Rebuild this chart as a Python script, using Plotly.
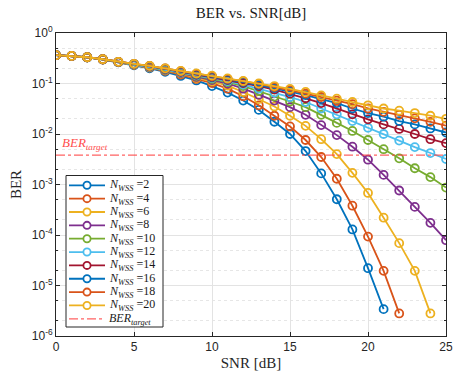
import math
import plotly.graph_objects as go

snr = list(range(0, 26))

ber_n2 = [0.363, 0.351, 0.328, 0.298, 0.263, 0.230, 0.200, 0.170, 0.141, 0.115, 0.089, 0.066, 0.046,
          0.030, 0.0175, 0.010, 0.0046, 0.00166, 0.00051, 0.000129, 0.000022, 0.0000034]
ber_n4 = [0.363, 0.351, 0.330, 0.299, 0.264, 0.235, 0.206, 0.178, 0.150, 0.123, 0.102, 0.079, 0.056,
          0.037, 0.023, 0.0141, 0.0076, 0.0035, 0.0013, 0.00038, 0.000093, 0.0000195, 0.0000028]
ber_n6 = [0.363, 0.351, 0.330, 0.300, 0.265, 0.237, 0.209, 0.182, 0.157, 0.129, 0.110, 0.091, 0.068,
          0.049, 0.035, 0.023, 0.0145, 0.0079, 0.0040, 0.0017, 0.00068, 0.00022, 0.000069, 0.0000195,
          0.0000028]
ber_n8 = [0.363, 0.351, 0.331, 0.300, 0.266, 0.239, 0.212, 0.186, 0.161, 0.135, 0.117, 0.100, 0.079,
          0.060, 0.046, 0.034, 0.024, 0.015, 0.0095, 0.0056, 0.0031, 0.00155, 0.00076, 0.00036,
          0.000174, 0.000079]
ber_n10 = [0.363, 0.351, 0.331, 0.301, 0.267, 0.240, 0.214, 0.189, 0.164, 0.141, 0.123, 0.107, 0.089,
           0.071, 0.055, 0.044, 0.034, 0.024, 0.0166, 0.0115, 0.0076, 0.0050, 0.0033, 0.0021, 0.0014,
           0.00087]
ber_n12 = [0.363, 0.351, 0.331, 0.301, 0.267, 0.241, 0.216, 0.191, 0.167, 0.145, 0.129, 0.112, 0.095,
           0.079, 0.066, 0.054, 0.043, 0.032, 0.0245, 0.018, 0.0133, 0.010, 0.0074, 0.0055, 0.0042,
           0.0032]
ber_n14 = [0.363, 0.351, 0.331, 0.302, 0.268, 0.242, 0.218, 0.194, 0.170, 0.148, 0.132, 0.117, 0.102,
           0.089, 0.076, 0.063, 0.051, 0.041, 0.032, 0.0245, 0.0195, 0.0155, 0.0126, 0.010, 0.0079,
           0.0066]
ber_n16 = [0.363, 0.351, 0.331, 0.302, 0.268, 0.243, 0.220, 0.196, 0.172, 0.151, 0.135, 0.120, 0.107,
           0.093, 0.081, 0.069, 0.059, 0.049, 0.041, 0.032, 0.026, 0.022, 0.018, 0.0155, 0.0129,
           0.0107]
ber_n18 = [0.363, 0.351, 0.331, 0.302, 0.269, 0.245, 0.222, 0.198, 0.175, 0.155, 0.138, 0.123, 0.110,
           0.098, 0.085, 0.074, 0.063, 0.054, 0.046, 0.039, 0.032, 0.0275, 0.024, 0.0204, 0.0174,
           0.0146]
ber_n20 = [0.363, 0.351, 0.331, 0.302, 0.269, 0.245, 0.224, 0.200, 0.178, 0.158, 0.143, 0.126, 0.112,
           0.100, 0.089, 0.078, 0.068, 0.058, 0.050, 0.043, 0.037, 0.032, 0.029, 0.026, 0.023, 0.020]

n_wss = [2, 4, 6, 8, 10, 12, 14, 16, 18, 20]
series = [ber_n2, ber_n4, ber_n6, ber_n8, ber_n10, ber_n12, ber_n14, ber_n16, ber_n18, ber_n20]
ber_target = 3.8e-3

colors = ["#0072BD", "#D95319", "#EDB120", "#7E2F8E", "#77AC30", "#4DBEEE", "#A2142F",
          "#0072BD", "#D95319", "#EDB120"]
target_color = "rgba(255,70,70,0.85)"

serif = "Liberation Serif"
sans = "Liberation Sans"

W, H = 453, 371
ML, MR, MT, MB = 56, 7, 33, 35
PW, PH = W - ML - MR, H - MT - MB


def px(xp):
    return (xp - ML) / PW


def py(yp):
    return (H - MB - yp) / PH


fig = go.Figure()
for n, ys, c in zip(n_wss, series, colors):
    fig.add_trace(go.Scatter(
        x=snr[:len(ys)], y=ys, mode="lines+markers",
        name=f"N_WSS={n}", showlegend=False,
        line=dict(color=c, width=1.8),
        marker=dict(symbol="circle-open", size=8, color=c, line=dict(width=1.8)),
    ))

fig.add_trace(go.Scatter(
    x=[0, 25], y=[ber_target, ber_target], mode="lines", showlegend=False,
    line=dict(color=target_color, width=1.3, dash="dashdot"),
))

fig.add_annotation(x=0.25, y=math.log10(ber_target), xref="x", yref="y", yshift=1,
                   text="<i>BER</i><sub><i>target</i></sub>", showarrow=False,
                   xanchor="left", yanchor="bottom",
                   font=dict(family=serif, size=13, color="#ff4d4d"))

# custom legend (box, samples, labels)
shapes = []
box_l, box_t, box_r, box_b = 66, 175.5, 163, 327
shapes.append(dict(type="rect", xref="paper", yref="paper",
                   x0=px(box_l), x1=px(box_r), y0=py(box_b), y1=py(box_t),
                   line=dict(color="#262626", width=1), fillcolor="white", layer="above"))
labels = [f"<i>N</i><sub><i>WSS</i></sub> ={n}" for n in n_wss] + ["<i>BER</i><sub><i>target</i></sub>"]
line_cols = colors + [target_color]
row0, row_gap = 185.3, 13.35
for i, (lab, c) in enumerate(zip(labels, line_cols)):
    yy = py(row0 + i * row_gap)
    is_target = i == len(labels) - 1
    shapes.append(dict(type="line", xref="paper", yref="paper",
                       x0=px(69), x1=px(105), y0=yy, y1=yy, layer="above",
                       line=dict(color=c, width=1.3 if is_target else 1.8,
                                 dash="dashdot" if is_target else "solid")))
    if not is_target:
        shapes.append(dict(type="circle", xref="paper", yref="paper",
                           xsizemode="pixel", ysizemode="pixel",
                           xanchor=px(87), yanchor=yy, x0=-3.6, x1=3.6, y0=-3.6, y1=3.6,
                           layer="above", fillcolor="white",
                           line=dict(color=c, width=1.8)))
    fig.add_annotation(x=px(107), y=yy, xref="paper", yref="paper", text=lab,
                       showarrow=False, xanchor="left", yanchor="middle",
                       font=dict(family=serif, size=12, color="#1a1a1a"))

axis_common = dict(
    showline=True, linecolor="#262626", linewidth=1, mirror="ticks",
    ticks="inside", ticklen=4, tickcolor="#262626",
    showgrid=True, gridcolor="#e3e3e3", gridwidth=1,
    zeroline=False, automargin=False,
    tickfont=dict(family=sans, size=12, color="#262626"),
)

fig.update_xaxes(range=[0, 25], tickvals=[0, 5, 10, 15, 20, 25],
                 title=dict(text="SNR [dB]", font=dict(family=serif, size=15, color="#262626"),
                            standoff=5),
                 **axis_common)

ytv = [1, 1e-1, 1e-2, 1e-3, 1e-4, 1e-5, 1e-6]
ytt = ["10<sup>0</sup>", "10<sup>-1</sup>", "10<sup>-2</sup>", "10<sup>-3</sup>",
       "10<sup>-4</sup>", "10<sup>-5</sup>", "10<sup>-6</sup>"]
fig.update_yaxes(type="log", range=[-6, 0], tickvals=ytv, ticktext=ytt,
                 title=dict(text="BER", font=dict(family=serif, size=15, color="#262626"),
                            standoff=6),
                 minor=dict(showgrid=True, gridcolor="#e6e6e6", griddash="dot",
                            ticks="inside", ticklen=2, tickcolor="#262626"),
                 **axis_common)

fig.update_layout(
    width=W, height=H,
    margin=dict(l=ML, r=MR, t=MT, b=MB),
    paper_bgcolor="white", plot_bgcolor="white",
    title=dict(text="BER vs. SNR[dB]", x=0.554, xanchor="center", y=0.98, yanchor="top",
               font=dict(family=serif, size=15, color="#1a1a1a")),
    shapes=shapes,
    showlegend=False,
)

fig.write_html("out.html")
